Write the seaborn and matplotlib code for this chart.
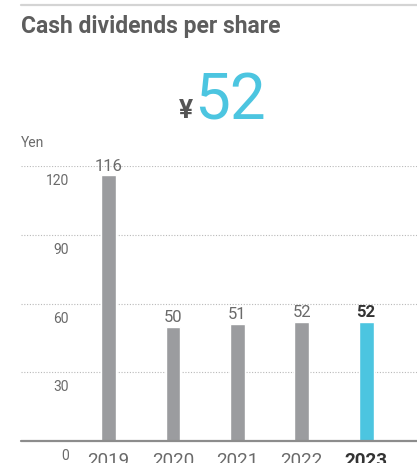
import matplotlib
matplotlib.use("Agg")
import matplotlib.pyplot as plt
import matplotlib.transforms as mtransforms
import seaborn as sns

# data
years = ["2019", "2020", "2021", "2022", "2023"]
dividends = [116, 50, 51, 52, 52]
y_ticks = [0, 30, 60, 90, 120]
headline = "52"

gray_bar = "#9b9c9f"
cyan = "#4cc5e0"
text_gray = "#6a6a6a"
num_font = ["Roboto", "DejaVu Sans"]

sns.set_style("white")
plt.rcParams['font.family'] = num_font

W, H = 417, 464
fig = plt.figure(figsize=(W / 100, H / 100), dpi=100)

def fx(px):
    return px / W

def fy(py):
    return 1 - py / H

ax = fig.add_axes([fx(21), fy(442), fx(417) - fx(21), fy(167.3) - fy(442)])

colors = [gray_bar] * (len(years) - 1) + [cyan]
sns.barplot(x=years, y=dividends, hue=years, palette=colors, legend=False,
            width=0.23, saturation=1, ax=ax)

ax.set_xlim(-1.36, 4.79)
ax.set_ylim(0, 120)

# dotted grid lines and solid baseline
for v in y_ticks[1:]:
    ax.axhline(v, color="#b9b9b9", lw=0.8, ls=(0, (1, 1.5)), zorder=0)
ax.axhline(0, color="#8c8c8c", lw=1.6, zorder=3, clip_on=False)

for s in ax.spines.values():
    s.set_visible(False)
ax.set_yticks([])
ax.set_ylabel("")
ax.set_xlabel("")

# y tick labels sit just below their grid line
blend = mtransforms.blended_transform_factory(ax.transAxes, ax.transData)
lab_tr = mtransforms.offset_copy(blend, fig=fig, x=0, y=-14, units="dots")
for v in y_ticks:
    ax.text(0.121, v, str(v), transform=lab_tr, ha="right", va="center",
            fontsize=10, color=text_gray, clip_on=False)

# year labels (cut off by the bottom edge, as in the original)
ax.set_xticks(range(len(years)))
ax.set_xticklabels(years, fontsize=13.5, color=text_gray)
ax.tick_params(axis="x", length=0, pad=7)
xl = ax.get_xticklabels()
xl[-1].set_fontweight("bold")
xl[-1].set_color("#333333")

# value labels above bars
for i, v in enumerate(dividends):
    last = i == len(dividends) - 1
    ax.annotate(str(v), (i, v), xytext=(0, 2), textcoords="offset points",
                ha="center", va="bottom", fontsize=12,
                color="#333333" if last else text_gray,
                fontweight="bold" if last else "normal", clip_on=False)

# header
fig.add_artist(plt.Line2D([fx(21), 1], [fy(5.5), fy(5.5)], color="#d4d4d4", lw=1.6))
fig.text(fx(21), fy(26), "Cash dividends per share", ha="left", va="center",
         fontsize=16.5, fontweight="bold", color="#5d5d5d")
fig.text(fx(193), fy(118), "¥", ha="right", va="baseline", fontsize=19,
         fontweight="bold", color="#555555")
fig.text(fx(194), fy(120), headline, ha="left", va="baseline", fontsize=46,
         color=cyan)
fig.text(fx(21), fy(143), "Yen", ha="left", va="center", fontsize=10,
         color=text_gray)

fig.savefig("out.png", dpi=100, facecolor="white")
